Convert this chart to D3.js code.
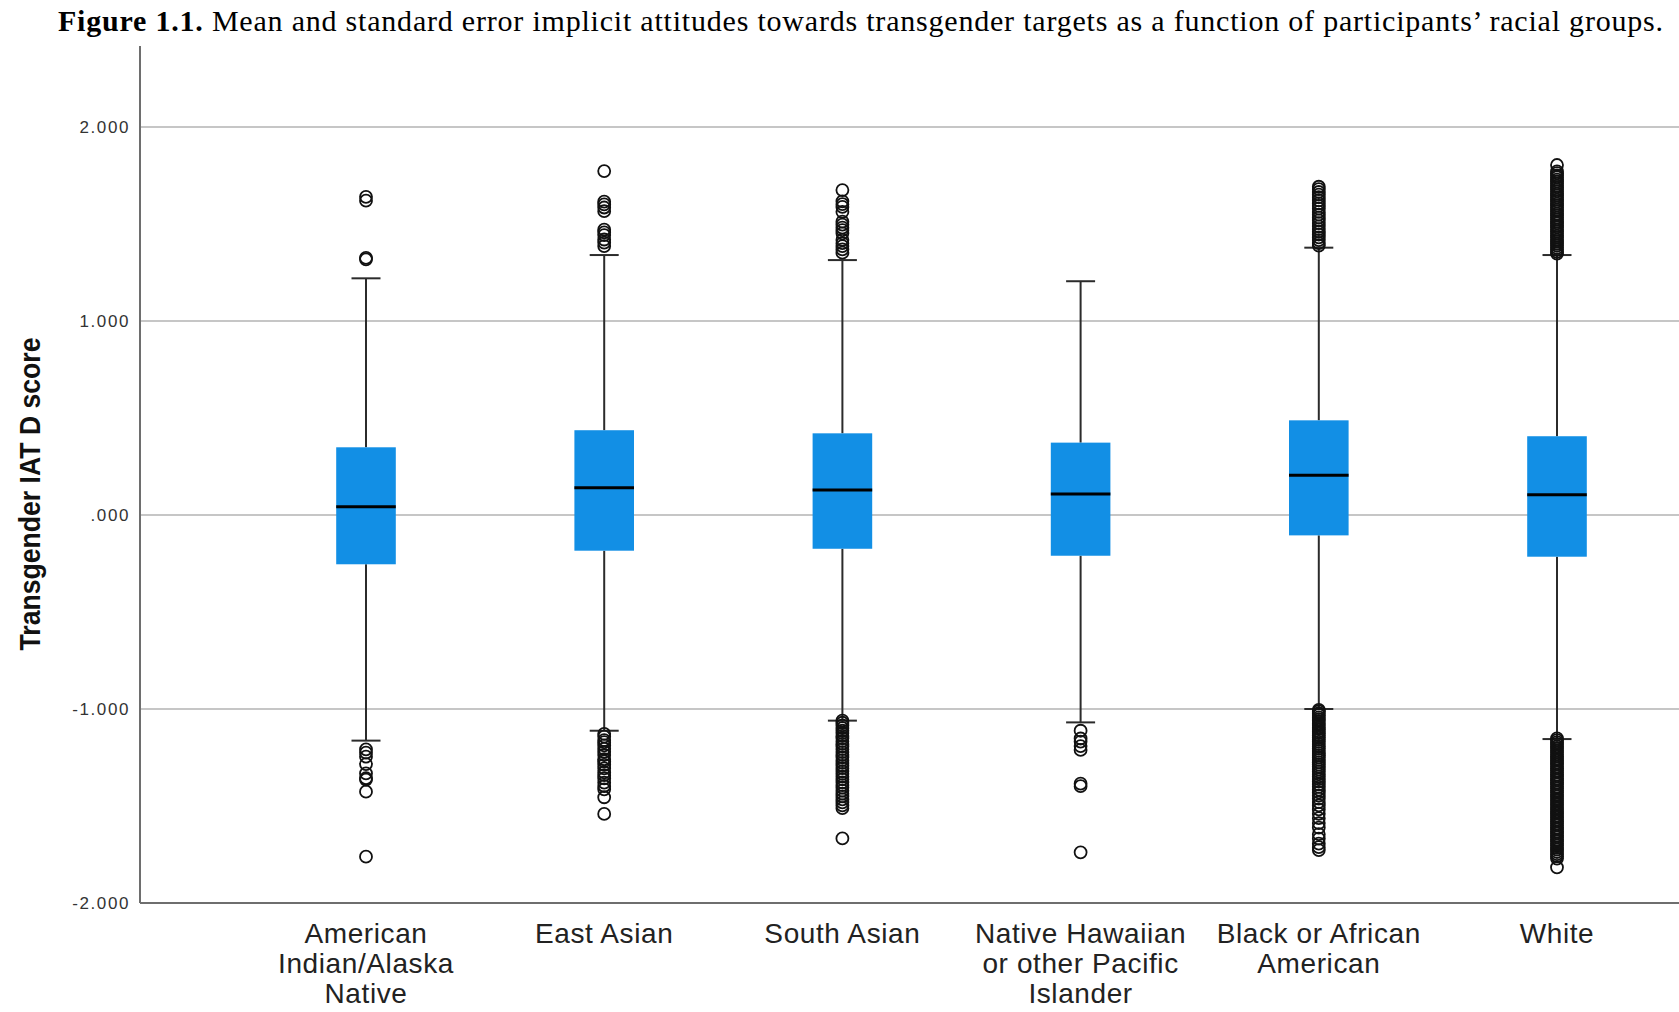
<!DOCTYPE html>
<html>
<head>
<meta charset="utf-8">
<script src="https://cdn.jsdelivr.net/npm/d3@7"></script>
<style>
  body { margin: 0; background: #fff; }
  svg { display: block; }
</style>
</head>
<body>
<svg id="chart" width="1679" height="1012"></svg>
<script>
// Racial groups along the x axis (multi-line labels)
const categories = [
  "American Indian/Alaska Native",
  "East Asian",
  "South Asian",
  "Native Hawaiian or other Pacific Islander",
  "Black or African American",
  "White"
];
const categoryLines = [
  ["American", "Indian/Alaska", "Native"],
  ["East Asian"],
  ["South Asian"],
  ["Native Hawaiian", "or other Pacific", "Islander"],
  ["Black or African", "American"],
  ["White"]
];

// Box-plot summary of Transgender IAT D scores per group
const q1Values         = [-0.254, -0.184, -0.174, -0.210, -0.105, -0.215];
const medianValues     = [ 0.043,  0.141,  0.129,  0.108,  0.205,  0.105];
const q3Values         = [ 0.349,  0.437,  0.421,  0.373,  0.488,  0.406];
const whiskerLowValues = [-1.163, -1.112, -1.060, -1.069, -1.000, -1.155];
const whiskerHighValues= [ 1.220,  1.340,  1.314,  1.205,  1.378,  1.340];

// Outlying cases per group
const outliersAIAN = [1.640, 1.620, 1.325, 1.318,
  -1.208, -1.225, -1.246, -1.284, -1.332, -1.357, -1.364, -1.426, -1.761];
const outliersEastAsian = [1.773, 1.615, 1.601, 1.585, 1.566, 1.471, 1.457, 1.443, 1.420, 1.404, 1.386,
  -1.128, -1.142, -1.160, -1.171, -1.188, -1.205, -1.221, -1.237, -1.259, -1.270, -1.288, -1.306,
  -1.327, -1.341, -1.358, -1.379, -1.397, -1.414, -1.455, -1.541];
const outliersSouthAsian = [1.675, 1.617, 1.602, 1.588, 1.563, 1.512, 1.497, 1.481, 1.468, 1.452,
  1.418, 1.401, 1.386, 1.369, 1.352,
  -1.060, -1.071, -1.085, -1.098, -1.112, -1.124, -1.139, -1.151, -1.166, -1.180, -1.193, -1.207,
  -1.222, -1.236, -1.249, -1.264, -1.278, -1.293, -1.305, -1.321, -1.334, -1.349, -1.362, -1.378,
  -1.392, -1.405, -1.421, -1.436, -1.450, -1.466, -1.481, -1.497, -1.511, -1.667];
const outliersNHPI = [-1.112, -1.152, -1.168, -1.191, -1.211, -1.385, -1.398, -1.739];
const outliersBlack = [1.692, 1.680, 1.665, 1.651, 1.638, 1.622, 1.606, 1.593, 1.579, 1.562, 1.548,
  1.533, 1.519, 1.505, 1.488, 1.474, 1.460, 1.446, 1.431, 1.417, 1.402, 1.389,
  -1.004, -1.012, -1.022, -1.031, -1.043, -1.052, -1.061, -1.073, -1.082, -1.094, -1.103, -1.115,
  -1.124, -1.136, -1.147, -1.158, -1.169, -1.181, -1.192, -1.204, -1.216, -1.227, -1.239, -1.250,
  -1.262, -1.275, -1.287, -1.298, -1.311, -1.323, -1.336, -1.349, -1.361, -1.374, -1.388, -1.401,
  -1.416, -1.430, -1.447, -1.462, -1.480, -1.497, -1.518, -1.540, -1.563, -1.588, -1.611, -1.645,
  -1.668, -1.694, -1.712, -1.727];
const outliersWhite = [1.804, 1.771, 1.762, 1.750, 1.741, 1.729, 1.720, 1.709, 1.698, 1.690, 1.678,
  1.669, 1.657, 1.648, 1.637, 1.626, 1.617, 1.605, 1.596, 1.585, 1.574, 1.566, 1.553, 1.544, 1.533,
  1.523, 1.512, 1.503, 1.491, 1.482, 1.470, 1.461, 1.450, 1.439, 1.430, 1.418, 1.409, 1.398, 1.388,
  1.377, 1.367, 1.356, 1.347,
  -1.151, -1.160, -1.171, -1.180, -1.192, -1.201, -1.212, -1.222, -1.233, -1.243, -1.254, -1.263,
  -1.275, -1.284, -1.296, -1.305, -1.317, -1.326, -1.338, -1.347, -1.359, -1.368, -1.380, -1.389,
  -1.401, -1.410, -1.422, -1.431, -1.443, -1.452, -1.464, -1.473, -1.485, -1.494, -1.506, -1.515,
  -1.527, -1.536, -1.548, -1.557, -1.569, -1.578, -1.590, -1.599, -1.611, -1.620, -1.632, -1.641,
  -1.653, -1.662, -1.674, -1.683, -1.695, -1.704, -1.716, -1.725, -1.737, -1.748, -1.759, -1.771,
  -1.816];
const outlierGroups = [outliersAIAN, outliersEastAsian, outliersSouthAsian, outliersNHPI, outliersBlack, outliersWhite];

// Y axis ticks
const tickValues = [2, 1, 0, -1, -2];
const tickLabels = ["2.000", "1.000", ".000", "-1.000", "-2.000"];
const gridValues = [2, 1, 0, -1];

const titleBold = "Figure 1.1.";
const titleRest = " Mean and standard error implicit attitudes towards transgender targets as a function of participants\u2019 racial groups.";
const yTitle = "Transgender IAT D score";

// ---- layout ----
const plotLeft = 140, plotRight = 1679, plotTop = 46, plotBottom = 903;
const boxWidth = 59.6, capWidth = 29;
const boxColor = "#128fe5";
const inkColor = "#2b2b2b";

const svg = d3.select("#chart");

const y = d3.scaleLinear().domain([-2, 2]).range([plotBottom, 127]);
const x = d3.scalePoint().domain(categories).range([366, 1557]);

const rows = categories.map((c, i) => ({
  cat: c, lines: categoryLines[i],
  q1: q1Values[i], med: medianValues[i], q3: q3Values[i],
  lo: whiskerLowValues[i], hi: whiskerHighValues[i], out: outlierGroups[i]
}));

// Title (caption spanning the figure width)
const title = svg.append("text")
  .attr("x", 58).attr("y", 31)
  .attr("font-family", "'Liberation Serif', 'Times New Roman', serif")
  .attr("font-size", 30)
  .attr("textLength", 1605).attr("lengthAdjust", "spacing")
  .attr("fill", "#000");
title.append("tspan").attr("font-weight", "bold").text(titleBold);
title.append("tspan").text(titleRest);

// Horizontal gridlines
svg.append("g").selectAll("line").data(gridValues).join("line")
  .attr("x1", plotLeft).attr("x2", plotRight)
  .attr("y1", d => y(d)).attr("y2", d => y(d))
  .attr("stroke", "#c6c6c6").attr("stroke-width", 2);

// Axis lines
svg.append("line").attr("x1", plotLeft).attr("x2", plotLeft)
  .attr("y1", plotTop).attr("y2", plotBottom)
  .attr("stroke", "#6e6e6e").attr("stroke-width", 2);
svg.append("line").attr("x1", plotLeft).attr("x2", plotRight)
  .attr("y1", plotBottom).attr("y2", plotBottom)
  .attr("stroke", "#6e6e6e").attr("stroke-width", 2);

// Y axis tick labels
const yAxis = d3.axisLeft(y).tickValues(tickValues)
  .tickFormat((d, i) => tickLabels[i]).tickSize(0).tickPadding(10);
const yg = svg.append("g").attr("transform", `translate(${plotLeft},0)`).call(yAxis);
yg.select(".domain").remove();
yg.selectAll("text")
  .attr("font-family", "'Liberation Sans', Arial, sans-serif")
  .attr("font-size", 17).attr("letter-spacing", 1.6)
  .attr("fill", "#333");

// Y axis title (condensed bold)
svg.append("text")
  .attr("transform", "translate(40,494) rotate(-90)")
  .attr("text-anchor", "middle")
  .attr("font-family", "'Liberation Sans Narrow', 'Arial Narrow', 'Liberation Sans', sans-serif")
  .attr("font-weight", "bold").attr("font-size", 30)
  .attr("textLength", 313).attr("lengthAdjust", "spacingAndGlyphs")
  .attr("fill", "#111")
  .text(yTitle);

// Box plots
const g = svg.append("g").selectAll("g").data(rows).join("g")
  .attr("transform", d => `translate(${x(d.cat)},0)`);

// whiskers
g.append("line").attr("x1", 0).attr("x2", 0)
  .attr("y1", d => y(d.q3)).attr("y2", d => y(d.hi))
  .attr("stroke", inkColor).attr("stroke-width", 2);
g.append("line").attr("x1", 0).attr("x2", 0)
  .attr("y1", d => y(d.q1)).attr("y2", d => y(d.lo))
  .attr("stroke", inkColor).attr("stroke-width", 2);
g.append("line").attr("x1", -capWidth / 2).attr("x2", capWidth / 2)
  .attr("y1", d => y(d.hi)).attr("y2", d => y(d.hi))
  .attr("stroke", inkColor).attr("stroke-width", 2);
g.append("line").attr("x1", -capWidth / 2).attr("x2", capWidth / 2)
  .attr("y1", d => y(d.lo)).attr("y2", d => y(d.lo))
  .attr("stroke", inkColor).attr("stroke-width", 2);

// boxes
g.append("rect")
  .attr("x", -boxWidth / 2).attr("width", boxWidth)
  .attr("y", d => y(d.q3)).attr("height", d => y(d.q1) - y(d.q3))
  .attr("fill", boxColor);

// medians
g.append("line").attr("x1", -boxWidth / 2).attr("x2", boxWidth / 2)
  .attr("y1", d => y(d.med)).attr("y2", d => y(d.med))
  .attr("stroke", "#000").attr("stroke-width", 3);

// outliers
g.selectAll("circle").data(d => d.out).join("circle")
  .attr("cx", 0).attr("cy", v => y(v)).attr("r", 6)
  .attr("fill", "none").attr("stroke", "#111").attr("stroke-width", 1.8);

// Category labels
const lab = svg.append("g").selectAll("text").data(rows).join("text")
  .attr("x", d => x(d.cat)).attr("y", 943)
  .attr("text-anchor", "middle")
  .attr("font-family", "'Liberation Sans', Arial, sans-serif")
  .attr("font-size", 28).attr("letter-spacing", 0.6)
  .attr("fill", "#222");
lab.selectAll("tspan").data(d => d.lines).join("tspan")
  .attr("x", function () { return d3.select(this.parentNode).attr("x"); })
  .attr("dy", (t, i) => i === 0 ? 0 : 30)
  .text(t => t);
</script>
</body>
</html>
